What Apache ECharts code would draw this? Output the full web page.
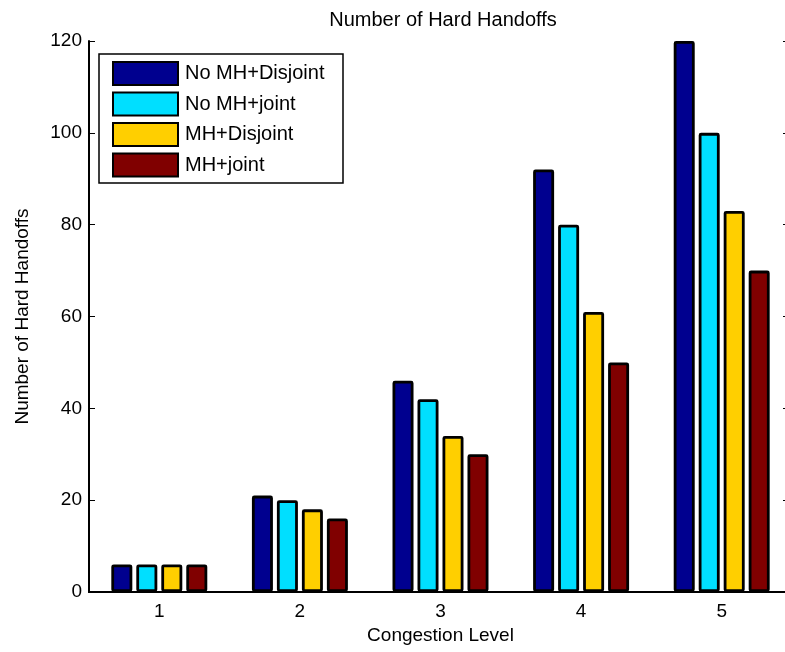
<!DOCTYPE html>
<html>
<head>
<meta charset="utf-8">
<script src="https://cdn.jsdelivr.net/npm/echarts@6/dist/echarts.min.js"></script>
<style>html,body{margin:0;padding:0;background:#fff}#c{width:785px;height:652px}</style>
</head>
<body>
<div id="c"></div>
<script>
var categories = ['1', '2', '3', '4', '5'];
var seriesNames = ['No MH+Disjoint', 'No MH+joint', 'MH+Disjoint', 'MH+joint'];
var noMhDisjoint = [6, 21, 46, 92, 120];
var noMhJoint = [6, 20, 42, 80, 100];
var mhDisjoint = [6, 18, 34, 61, 83];
var mhJoint = [6, 16, 30, 50, 70];
var yTicks = [0, 20, 40, 60, 80, 100, 120];
var colors = ['#00008F', '#00DFFF', '#FFCF00', '#800000'];

var font = 'Liberation Sans, Arial, Helvetica, sans-serif';
var allData = [noMhDisjoint, noMhJoint, mhDisjoint, mhJoint];

var chart = echarts.init(document.getElementById('c'));
var series = allData.map(function (d, i) {
  return {
    name: seriesNames[i],
    type: 'bar',
    data: d,
    barWidth: 21,
    barGap: '19%',
    xAxisIndex: 0,
    yAxisIndex: 0,
    itemStyle: { color: colors[i], borderColor: '#000', borderWidth: 2.8, borderRadius: 1 },
    emphasis: { disabled: true },
    animation: false
  };
});

chart.setOption({
  animation: false,
  backgroundColor: '#fff',
  title: {
    text: 'Number of Hard Handoffs',
    left: 438, textAlign: 'center', top: 5,
    textStyle: { fontFamily: font, fontSize: 20, fontWeight: 'normal', color: '#000' }
  },
  grid: { left: 89, width: 703, top: 41, height: 551, containLabel: false, outerBoundsMode: 'none' },
  graphic: [{
    type: 'rect', z: 3,
    shape: { x: 99, y: 54, width: 244, height: 129 },
    style: { fill: '#fff', stroke: '#000', lineWidth: 1.5 }
  }],
  legend: {
    orient: 'vertical', left: 112, top: 61, z: 5, padding: 0,
    itemWidth: 65, itemHeight: 23, itemGap: 5.5,
    icon: 'rect',
    selectedMode: false,
    textStyle: { fontFamily: font, fontSize: 20, color: '#000', padding: [0, 0, 0, 2], lineHeight: 23 },
    data: seriesNames
  },
  xAxis: [{
    type: 'category', data: categories, position: 'bottom',
    name: 'Congestion Level', nameLocation: 'middle', nameGap: 33,
    nameTextStyle: { fontFamily: font, fontSize: 19, color: '#000' },
    axisLine: { lineStyle: { color: '#000', width: 2 } },
    axisTick: { inside: true, alignWithLabel: true, length: 6, lineStyle: { color: '#000' } },
    axisLabel: { fontFamily: font, fontSize: 19, color: '#000', margin: 10 },
    splitLine: { show: false }
  }, {
    type: 'category', data: categories, position: 'top',
    axisLine: { lineStyle: { color: '#000', width: 2 } },
    axisTick: { inside: true, alignWithLabel: true, length: 6, lineStyle: { color: '#000' } },
    axisLabel: { show: false },
    splitLine: { show: false }
  }],
  yAxis: [{
    type: 'value', min: 0, max: 120, interval: 20, position: 'left',
    name: 'Number of Hard Handoffs', nameLocation: 'middle', nameGap: 57, nameRotate: 90,
    nameTextStyle: { fontFamily: font, fontSize: 19, color: '#000' },
    axisLine: { show: true, lineStyle: { color: '#000', width: 2 } },
    axisTick: { show: true, inside: true, length: 6, lineStyle: { color: '#000' } },
    axisLabel: { fontFamily: font, fontSize: 19, color: '#000', margin: 7 },
    splitLine: { show: false }
  }, {
    type: 'value', min: 0, max: 120, interval: 20, position: 'right',
    axisLine: { show: true, lineStyle: { color: '#000', width: 2 } },
    axisTick: { show: true, inside: true, length: 9, lineStyle: { color: '#000' } },
    axisLabel: { show: false },
    splitLine: { show: false }
  }],
  series: series
});
</script>
</body>
</html>
